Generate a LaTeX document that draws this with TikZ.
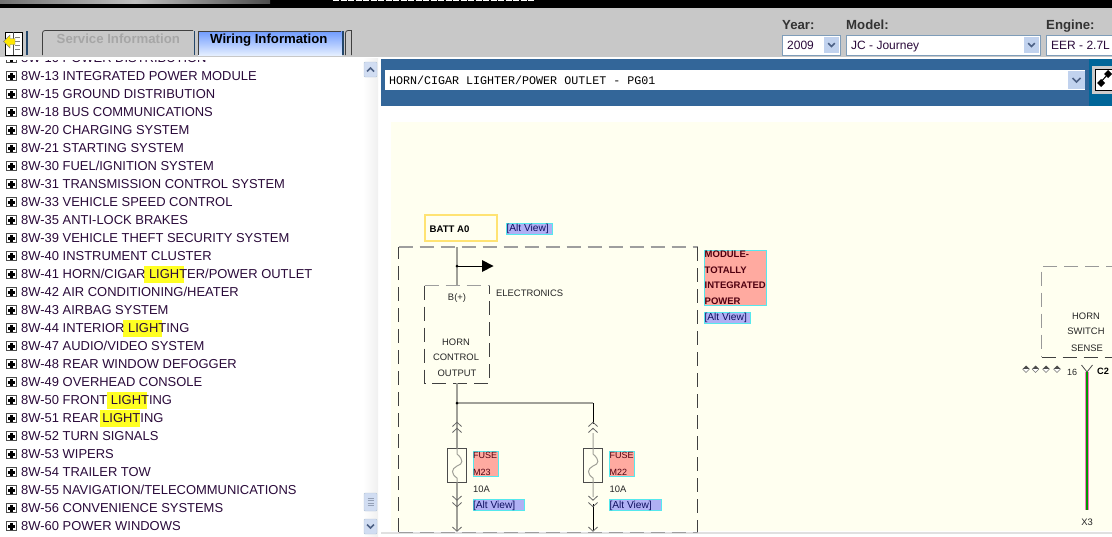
\documentclass[tikz,border=0pt]{standalone}
\usepackage{fontspec}
\setmainfont{Liberation Sans}
\newfontfamily\monofam{Liberation Mono}
\usetikzlibrary{arrows.meta,calc}
\definecolor{chrome}{HTML}{C8C8C8}
\definecolor{barblue}{HTML}{336699}
\definecolor{deepblue}{HTML}{006699}
\definecolor{cream}{HTML}{FFFFF0}
\definecolor{listink}{HTML}{2A0A3A}
\definecolor{hiyel}{HTML}{FFFF22}
\definecolor{btnblue}{HTML}{C1D2EE}
\definecolor{btnedge}{HTML}{7F9DB9}
\definecolor{arrowink}{HTML}{4D6185}
\definecolor{labelred}{HTML}{FFAAA0}
\definecolor{labelcyan}{HTML}{55E8EE}
\definecolor{altblue}{HTML}{B0B0F4}
\definecolor{altink}{HTML}{101060}
\definecolor{redink}{HTML}{500010}
\definecolor{wiregray}{HTML}{A0A098}
\definecolor{tabtop}{HTML}{6F9BFF}
\definecolor{tabbot}{HTML}{E4EEFF}
\tikzset{
  x=1pt,y=-1pt,
  listrow/.style={anchor=base west,inner sep=0,text=listink,font=\fontsize{12.95}{13}\selectfont},
  diagtext/.style={inner sep=0,text=black!85,font=\fontsize{9.4}{9.4}\selectfont},
  hdr/.style={anchor=base west,inner sep=0,text=black!80,font=\bfseries\fontsize{13.2}{13.2}\selectfont},
  combotext/.style={anchor=base west,inner sep=0,text=listink,font=\fontsize{12}{12}\selectfont},
  combo/.style={draw=btnedge,line width=1pt,fill=white},
  dashbox/.style={draw=black!75,line width=1pt,dash pattern=on 14pt off 7pt},
  graywire/.style={draw=wiregray,line width=1.6pt},
  thinwire/.style={draw=black,line width=1pt},
}
\newcommand{\treerow}[2]{%
  \draw[black!70,fill=white,line width=.9pt] (6.5,#1-4.7) rectangle (16,#1+4.8);
  \fill[black] (8,#1-1.2) rectangle (14.5,#1+1.8);
  \fill[black] (9.8,#1-3.2) rectangle (12.7,#1+3.5);
  \node[listrow] at (21,#1+4.6) {#2};
}
\newcommand{\hilite}[3]{\fill[hiyel] (#1,#3-8) rectangle (#2,#3+9);}
\newcommand{\combobtn}[2]{%
  \fill[btnblue] (#1,#2) rectangle ++(15,16);
  \draw[arrowink,line width=1.6pt] (#1+4.2,#2+6.2) -- (#1+7.5,#2+9.4) -- (#1+10.8,#2+6.2);
}
\newcommand{\updn}[3]{%
  \draw[black!60,line width=.8pt] (#1-4.6,#2-#3*2) -- (#1,#2+#3*2.2) -- (#1+4.6,#2-#3*2);
}
\newcommand{\altview}[4]{%
  \node[draw=labelcyan,fill=altblue,line width=.9pt,inner sep=0,minimum height=11pt,minimum width=#4pt-#2pt,anchor=north west] (#1) at (#2,#3) {};
  \node[anchor=west,inner sep=0,text=altink,font=\fontsize{10.2}{10.2}\selectfont] at (#2+.3,#3+6.6) {[Alt View]};
}
\newcommand{\fuseunit}[3]{%
  \draw[black!70,line width=.8pt,fill=cream] (#1-9.5,448) rectangle (#1+9.5,482);
  \draw[wiregray,line width=1pt] (#1,433) -- (#1,454) .. controls (#1+7,460) and (#1+6,464) .. (#1,466) .. controls (#1-6,469) and (#1-6,474) .. (#1,478) -- (#1,497);
  \updn{#1}{424.5}{-1}\updn{#1}{430.5}{-1}
  \updn{#1}{498}{1}\updn{#1}{504.5}{1}
  \updn{#1}{529}{1}
  \node[draw=labelcyan,fill=labelred,line width=.9pt,minimum width=25pt,minimum height=24.5pt,inner sep=0,anchor=north west] at (#2,451) {};
  \node[anchor=base west,inner sep=0,text=redink,font=\fontsize{9}{9}\selectfont] at (#2+.5,458.5) {FUSE};
  \node[anchor=base west,inner sep=0,text=redink,font=\fontsize{9}{9}\selectfont] at (#2+.5,475) {#3};
  \node[anchor=base west,inner sep=0,text=black!85,font=\fontsize{9.4}{9.4}\selectfont] at (#2+.5,492.5) {10A};
}
\begin{document}
\begin{tikzpicture}
\useasboundingbox (0,0) rectangle (1112,536);
\fill[white] (0,0) rectangle (1112,536);
\fill[black] (0,0) rectangle (1112,8);
\shade[left color=black!55,right color=black!70,middle color=black!25] (0,0) rectangle (270,3);
\draw[white,line width=1.4pt,dash pattern=on 6pt off 1.5pt] (333,.6) -- (535,.6);
\fill[chrome] (0,8) rectangle (1112,57);
\begin{scope}
\clip (0,60.5) rectangle (362,536);
\treerow{58}{8W-10 POWER DISTRIBUTION}
\treerow{76}{8W-13 INTEGRATED POWER MODULE}
\treerow{94}{8W-15 GROUND DISTRIBUTION}
\treerow{112}{8W-18 BUS COMMUNICATIONS}
\treerow{130}{8W-20 CHARGING SYSTEM}
\treerow{148}{8W-21 STARTING SYSTEM}
\treerow{166}{8W-30 FUEL/IGNITION SYSTEM}
\treerow{184}{8W-31 TRANSMISSION CONTROL SYSTEM}
\treerow{202}{8W-33 VEHICLE SPEED CONTROL}
\treerow{220}{8W-35 ANTI-LOCK BRAKES}
\treerow{238}{8W-39 VEHICLE THEFT SECURITY SYSTEM}
\treerow{256}{8W-40 INSTRUMENT CLUSTER}
\hilite{144}{184}{274}\treerow{274}{8W-41 HORN/CIGAR LIGHTER/POWER OUTLET}
\treerow{292}{8W-42 AIR CONDITIONING/HEATER}
\treerow{310}{8W-43 AIRBAG SYSTEM}
\hilite{123}{162}{328}\treerow{328}{8W-44 INTERIOR LIGHTING}
\treerow{346}{8W-47 AUDIO/VIDEO SYSTEM}
\treerow{364}{8W-48 REAR WINDOW DEFOGGER}
\treerow{382}{8W-49 OVERHEAD CONSOLE}
\hilite{107}{147}{400}\treerow{400}{8W-50 FRONT LIGHTING}
\hilite{100}{140}{418}\treerow{418}{8W-51 REAR LIGHTING}
\treerow{436}{8W-52 TURN SIGNALS}
\treerow{454}{8W-53 WIPERS}
\treerow{472}{8W-54 TRAILER TOW}
\treerow{490}{8W-55 NAVIGATION/TELECOMMUNICATIONS}
\treerow{508}{8W-56 CONVENIENCE SYSTEMS}
\treerow{526}{8W-60 POWER WINDOWS}
\end{scope}
\shade[left color=white,right color=black!6] (363,58) rectangle (378,536);
\fill[btnblue!75,draw=btnedge!60,rounded corners=1pt] (364,62) rectangle (377,77);
\draw[arrowink,line width=1.7pt] (367,71.5) -- (370.5,68) -- (374,71.5);
\fill[btnblue!75,draw=btnedge!60,rounded corners=1pt] (364,493) rectangle (377,511);
\foreach \yy in {498,500.5,503,505.5}{\draw[arrowink!60,line width=.8pt] (367.5,\yy) -- (373.5,\yy);}
\fill[btnblue!75,draw=btnedge!60,rounded corners=1pt] (364,519) rectangle (377,534);
\draw[arrowink,line width=1.7pt] (367,524.5) -- (370.5,528) -- (374,524.5);
% tabs
\fill[white] (5,32) rectangle (22,55);
\draw[black,line width=1pt] (5,32) rectangle (22,55);
\draw[black!70,line width=1pt] (13,32) -- (13,55);
\foreach \yy in {37,41,45,49}{\draw[black!50,line width=.7pt] (15,\yy) -- (20,\yy);}
\fill[yellow!90!orange,draw=black!50,line width=.4pt] (3.5,41.5) -- (10,35) -- (10,38.5) -- (15,38.5) -- (15,44.5) -- (10,44.5) -- (10,48) -- cycle;
\draw[barblue!70!black,line width=1.2pt] (27,31) -- (27,55);
\draw[black!75,line width=.8pt] (42.5,55) -- (42.5,33) to[out=90,in=180] (45,30.5) -- (193,30.5);
\draw[barblue!70!black,line width=1.2pt] (194.5,31) -- (194.5,55);
\node[hdr,text=black!35] at (56.5,43) {Service Information};
\shade[top color=tabtop,bottom color=tabbot] (198,31) rectangle (342,55);
\draw[black!75,line width=.8pt] (198,55) -- (198,31) -- (341,31);
\draw[barblue!70!black,line width=1.2pt] (343,31) -- (343,55);
\node[hdr,text=black] at (210,43) {Wiring Information};
\draw[black!75,line width=.8pt] (345.5,55) -- (345.5,33) to[out=90,in=180] (348,30.5) -- (351.5,30.5) -- (351.5,55);
% selectors
\node[hdr] at (782,29) {Year:};
\node[hdr] at (846,29) {Model:};
\node[hdr] at (1046,29) {Engine:};
\draw[combo] (782.5,35.5) rectangle (840,55);
\combobtn{824}{37}
\node[combotext] at (787,49) {2009};
\draw[combo] (846.5,35.5) rectangle (1040.5,55);
\combobtn{1024}{37}
\node[combotext] at (851,49) {JC - Journey};
\draw[combo] (1046.5,35.5) rectangle (1120,55);
\node[combotext] at (1051,49) {EER - 2.7L};
% title bar
\fill[barblue] (381,59) rectangle (1112,106);
\fill[deepblue] (1089,59) rectangle (1112,106);
\fill[white] (385,70) rectangle (1085,90);
\fill[btnblue] (1068,71) rectangle (1085,89);
\draw[arrowink,line width=1.6pt] (1072.5,78) -- (1076.5,82) -- (1080.5,78);
\node[anchor=base west,inner sep=0,text=black,font=\monofam\fontsize{11.67}{11.67}\selectfont] at (389,84) {HORN/CIGAR LIGHTER/POWER OUTLET - PG01};
\fill[black!20] (1092,66) rectangle (1112,94);
\fill[white] (1095,69) rectangle (1112,90);
\draw[black,line width=1pt] (1095,69) rectangle (1112,90);
\fill[black] (1097,83) -- (1101,79) -- (1105,83) -- (1101,87) -- cycle;
\fill[black] (1104,74) -- (1108,70) -- (1112,74) -- (1108,78) -- cycle;
\draw[black,line width=1pt] (1100,83) -- (1108,74);
% sheet
\fill[cream] (391,122) rectangle (1112,531);
\fill[black!12] (381,532) rectangle (1112,533.5);
% BATT
\node[draw=orange!40!yellow!55!white,line width=1.6pt,minimum width=72pt,minimum height=26pt,inner sep=0,anchor=north west,fill=cream] (batt) at (424,214) {};
\node[anchor=west,inner sep=0,text=black,font=\bfseries\fontsize{9.6}{9.6}\selectfont] at (429.5,229) {BATT A0};
\altview{altbatt}{506}{222.5}{552}
% module box
\coordinate (mtl) at (398.5,247);
\coordinate (mtr) at (697.5,247);
\coordinate (mbl) at (398.5,532);
\coordinate (mbr) at (697.5,532);
\draw[dashbox] (mbl) -- (mtl);
\draw[dashbox,draw=black!38,line width=1.3pt] (mtl) -- (mtr);
\draw[dashbox] (mtr) -- (mbr);
\draw[dashbox,draw=black!38] (mbl) -- (mbr);
% control box
\coordinate (ctl) at (424.5,285.5);
\coordinate (ctr) at (489.5,285.5);
\coordinate (cbl) at (424.5,383);
\coordinate (cbr) at (489.5,383);
\draw[dashbox,draw=black!38,line width=1.3pt] (ctl) -- (ctr);
\draw[dashbox] (ctl) -- (cbl) -- (cbr) -- (ctr);
\coordinate (batttap) at (457,247);
\coordinate (ctop) at (457,285);
\coordinate (cbot) at (457,383);
\coordinate (junc) at (457,403);
\coordinate (corner) at (593,403);
\coordinate (leftend) at (457,530);
\coordinate (rightend) at (593,530);
\coordinate (tap) at (457,266);
\coordinate (tapend) at (493.5,266);
\draw[graywire] (batttap) -- (ctop);
\draw[black,line width=.7pt] (tap) -- (482,266);
\fill[black] (482,260) -- (tapend) -- (482,272) -- cycle;
\fill[black] (tap) circle (1.5);
\draw[graywire] (cbot) -- (junc) -- (leftend);
\draw[graywire] (junc) -- (corner);
\draw[thinwire] (corner) -- (593,424);
\fill[black] (junc) circle (1.5);
\draw[thinwire] (593,504) -- (rightend);
\fuseunit{457}{472.5}{M23}
\fuseunit{593}{609}{M22}
\altview{altm23}{472.5}{499}{524}
\altview{altm22}{609}{499}{661}
% texts
\node[diagtext] at (457,298.5) {B(+)};
\node[diagtext,anchor=west] at (496,293) {ELECTRONICS};
\node[diagtext] at (456,342.5) {HORN};
\node[diagtext] at (456,357.5) {CONTROL};
\node[diagtext] at (457,373.5) {OUTPUT};
% module label
\node[draw=labelcyan,fill=labelred,line width=.9pt,minimum width=62pt,minimum height=55pt,inner sep=0,anchor=north west] (modlab) at (704,249.5) {};
\foreach \yy/\tt in {257.5/MODULE-,273/TOTALLY,288.5/INTEGRATED,304/POWER}{
  \node[anchor=base west,inner sep=0,text=redink,font=\bfseries\fontsize{9.5}{9.5}\selectfont] at (704.5,\yy) {\tt};}
\altview{altmod}{704}{311.5}{750}
% horn switch box
\coordinate (htl) at (1041.5,266);
\coordinate (hbl) at (1041.5,357);
\draw[dashbox,draw=black!40] (1120,266) -- (htl) -- (hbl);
\draw[dashbox] (hbl) -- (1120,357);
\node[diagtext] at (1086,316) {HORN};
\node[diagtext] at (1086,331) {SWITCH};
\node[diagtext] at (1087,348) {SENSE};
\foreach \xx in {1026,1035.5,1046,1057}{
  \fill[black!70] (\xx-3.5,369) -- (\xx,365.5) -- (\xx+3.5,369) -- cycle;
  \draw[black!55,line width=.6pt,fill=white] (\xx-3.5,369) -- (\xx,372.5) -- (\xx+3.5,369);
}
\node[diagtext,anchor=west,font=\fontsize{9}{9}\selectfont] at (1067,372.5) {16};
\draw[black!70,line width=.8pt] (1081.5,365) -- (1087,372) -- (1092.5,365);
\node[anchor=west,inner sep=0,text=black,font=\bfseries\fontsize{9.2}{9.2}\selectfont] at (1097,371.5) {C2};
\node[diagtext] (xthree) at (1087,522) {X3};
\coordinate (wt) at (1087,372);
\coordinate (wb) at (1087,510);
\fill[magenta!55!white] ($(wt)+(-1.6,0)$) rectangle ($(wb)+(1.6,0)$);
\fill[green!60!black] ($(wt)+(-.7,0)$) rectangle ($(wb)+(.7,0)$);
\end{tikzpicture}
\end{document}
